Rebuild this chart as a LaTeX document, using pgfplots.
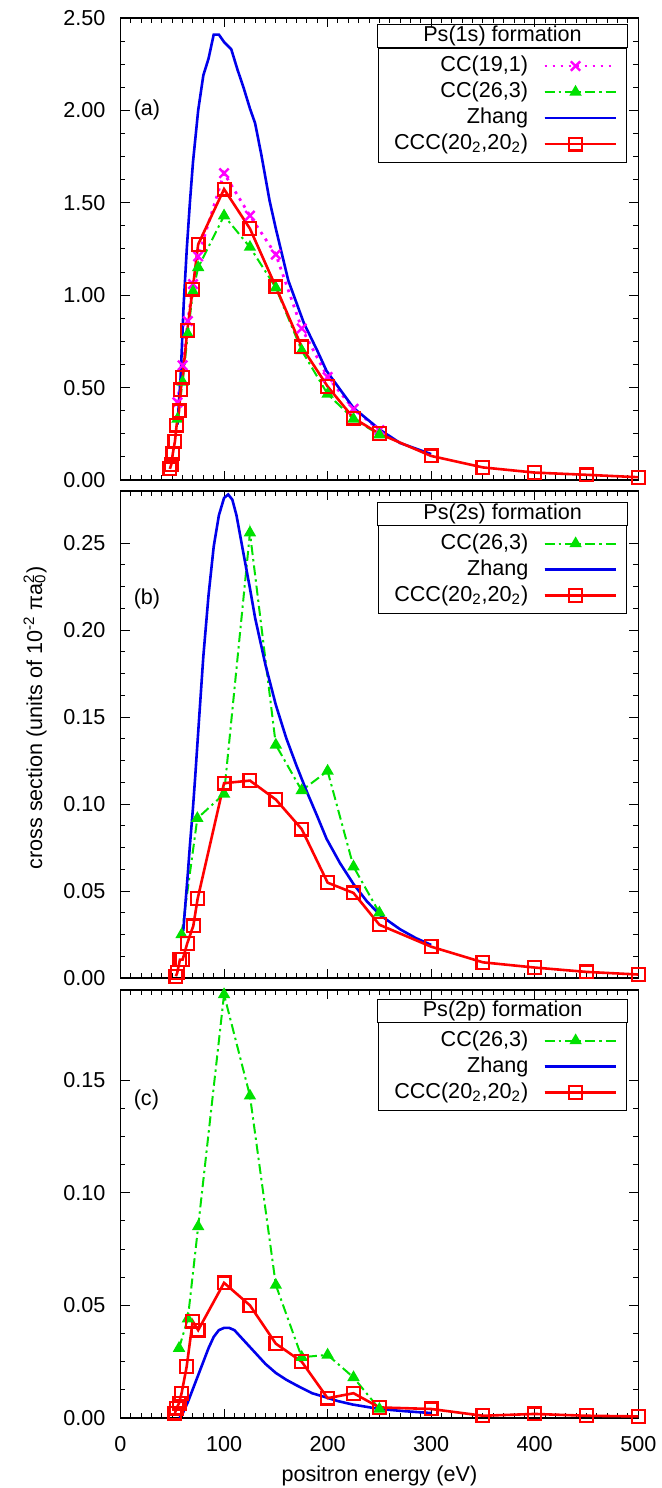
\documentclass[border=0pt]{standalone}
\usepackage{fontspec}
\setmainfont{Liberation Sans}
\usepackage{pgfplots}
\pgfplotsset{compat=1.18}
\usetikzlibrary{calc}
\definecolor{cgreen}{RGB}{0,225,0}
\definecolor{cblue}{RGB}{0,0,235}
\definecolor{cred}{RGB}{255,0,0}
\definecolor{cmag}{RGB}{255,0,255}
\pgfplotsset{
  panel/.style={
    scale only axis, width=258.9pt,
    xmin=0, xmax=500, xtick={0,100,...,500}, minor x tick num=9,
    minor y tick num=3, tick align=inside,
    major tick length=4.7pt, minor tick length=2.4pt,
    axis line style={line width=0.6pt},
    every tick/.style={black, line width=0.5pt},
    scaled y ticks=false,
    /pgf/number format/assume math mode=true,
    yticklabel style={/pgf/number format/fixed, /pgf/number format/fixed zerofill, /pgf/number format/precision=2, xshift=-4pt},
    xticklabel style={yshift=-5.5pt},
    legend plot pos=right, legend cell align=right,
    legend style={draw=black, line width=0.5pt, fill=white, inner xsep=5pt, inner ysep=2.5pt,
      row sep=0pt, nodes={inner sep=0pt, text height=9.3pt, text depth=3.7pt, text width=70pt, align=right},
      /tikz/column 1/.style={column sep=7.5pt}},
    legend image code/.code={
      \draw[mark repeat=2,mark phase=2] plot coordinates {(0pt,0pt) (15.5pt,0pt) (31pt,0pt)};
      \path (0pt,0pt) -- (35.5pt,0pt);
    },
  },
  ccc/.style={color=cred, line width=1.3pt, mark=square, mark size=3.2pt, mark options={solid, line width=1.1pt}},
  cctwo/.style={color=cgreen, line width=1pt, dash pattern=on 5pt off 2pt on 1.2pt off 2pt, mark=triangle*, mark size=2.6pt, mark options={solid}},
  ccone/.style={color=cmag, line width=1.4pt, dash pattern=on 1.4pt off 2.6pt, mark=x, mark size=3.3pt, mark options={solid, line width=1.2pt}},
  zhang/.style={color=cblue, line width=1.3pt, no marks},
}
\begin{document}
\begin{tikzpicture}[font=\fontsize{10.8pt}{13pt}\selectfont]
\useasboundingbox (-60.25pt,-35pt) rectangle (270.75pt,709pt);

% ---------------- panel (a)
\begin{axis}[panel, at={(0pt,469pt)}, anchor=south west, height=231pt,
  ymin=0, ymax=2.5, ytick={0,0.5,...,2.5}, xticklabels={},
  legend style={at={(rel axis cs:0.979,0.936)}, anchor=north east, name=legA}]
\addplot[ccone] coordinates {
 (55,0.42) (60,0.62) (65,0.86) (70,1.06) (75,1.21) (100,1.66) (125,1.43) (150,1.22)
 (175,0.82) (200,0.557) (225,0.385) (250,0.27)};
\addlegendentry{CC(19,1)}
\addplot[cctwo] coordinates {
 (55,0.33) (60,0.53) (65,0.79) (70,1.02) (75,1.15) (100,1.43) (125,1.26) (150,1.04)
 (175,0.70) (200,0.465) (225,0.33) (250,0.245)};
\addlegendentry{CC(26,3)}
\addplot[zhang] coordinates {
 (55,0.30) (58,0.55) (61,0.95) (64,1.25) (67,1.50) (70,1.72) (75,2.00) (80,2.19) (85,2.28)
 (90,2.41) (95,2.41) (100,2.37) (107,2.33) (113,2.22) (119,2.12) (125,2.01) (130,1.93)
 (136,1.76) (144,1.51) (150,1.36) (162,1.08) (177,0.85) (190,0.70) (199,0.59) (212,0.49)
 (225,0.39) (238,0.33) (251,0.27) (270,0.20) (285,0.17) (300,0.14)};
\addlegendentry{Zhang}
\addplot[ccc] coordinates {
 (47.7,0.060) (49.0,0.083) (50.6,0.146) (52.6,0.210) (54.2,0.297) (56.5,0.374) (58.1,0.488)
 (60.0,0.553) (64.5,0.810) (69.7,1.033) (75,1.275) (100,1.574) (125,1.360) (150,1.045)
 (175,0.720) (200,0.506) (225,0.335) (250,0.250) (300,0.130) (350,0.068) (400,0.040)
 (450,0.028) (500,0.015)};
\addlegendentry{CCC(20\textsubscript{2},20\textsubscript{2})}
\node[anchor=west] at (axis cs:6,2.0) {(a)};
\end{axis}
\draw[line width=0.5pt] (legA.north west) rectangle ($(legA.north east)+(0,11.5pt)$);
\node at ($(legA.north)+(0,5.75pt)$) {Ps(1s) formation};

% ---------------- panel (b)
\begin{axis}[panel, at={(0pt,220pt)}, anchor=south west, height=243.5pt,
  ymin=0, ymax=0.28, ytick={0,0.05,...,0.25}, xticklabels={},
  legend style={at={(rel axis cs:0.979,0.93)}, anchor=north east, name=legB}]
\addplot[cctwo] coordinates {
 (59,0.025) (74.2,0.0918) (100,0.1058) (125,0.256) (150,0.134) (175,0.1078) (200,0.119)
 (225,0.064) (250,0.0375)};
\addlegendentry{CC(26,3)}
\addplot[zhang] coordinates {
 (60.6,0.027) (63,0.045) (65,0.060) (67,0.076) (70,0.098) (72,0.1145) (76,0.150) (80,0.185)
 (85,0.220) (90,0.248) (95,0.266) (100,0.276) (104,0.278) (108,0.275) (112,0.266) (116,0.253)
 (120,0.240) (125,0.224) (130,0.207) (140,0.180) (150,0.157) (160,0.138) (170,0.122)
 (180,0.107) (190,0.093) (199,0.080) (212,0.066) (225,0.054) (238,0.044) (251,0.036)
 (270,0.028) (285,0.023) (300,0.019)};
\addlegendentry{Zhang}
\addplot[ccc] coordinates {
 (53.5,0.001) (54.8,0.003) (57.4,0.0106) (60,0.0106) (64.5,0.020) (70.3,0.030) (74.5,0.0456)
 (100,0.112) (125,0.1135) (150,0.1026) (175,0.0856) (200,0.0548) (225,0.0489) (250,0.0306)
 (300,0.018) (350,0.009) (400,0.006) (450,0.0035) (500,0.002)};
\addlegendentry{CCC(20\textsubscript{2},20\textsubscript{2})}
\node[anchor=west] at (axis cs:6,0.218) {(b)};
\end{axis}
\draw[line width=0.5pt] (legB.north west) rectangle ($(legB.north east)+(0,11.5pt)$);
\node at ($(legB.north)+(0,5.75pt)$) {Ps(2s) formation};

% ---------------- panel (c)
\begin{axis}[panel, at={(0pt,0pt)}, anchor=south west, height=214pt,
  ymin=0, ymax=0.19, ytick={0,0.05,...,0.15},
  xlabel={positron energy (eV)},
  xlabel style={at={(axis description cs:0.5,0)}, anchor=center, yshift=-29pt},
  legend style={at={(rel axis cs:0.979,0.925)}, anchor=north east, name=legC}]
\addplot[cctwo] coordinates {
 (56.5,0.031) (65,0.044) (75,0.085) (100,0.188) (125,0.143) (150,0.059) (175,0.027)
 (200,0.028) (225,0.018) (250,0.004)};
\addlegendentry{CC(26,3)}
\addplot[zhang] coordinates {
 (57,0) (60,0.002) (65,0.007) (70,0.013) (75,0.019) (80,0.025) (85,0.031) (90,0.036)
 (95,0.039) (100,0.040) (105,0.040) (110,0.039) (120,0.034) (130,0.029) (140,0.024)
 (150,0.020) (160,0.017) (170,0.0145) (185,0.011) (196,0.0095) (210,0.0075) (224,0.006)
 (250,0.004) (275,0.003) (300,0.0022)};
\addlegendentry{Zhang}
\addplot[ccc] coordinates {
 (52.6,0.0022) (54.2,0.0044) (56.5,0.0066) (59,0.011) (63.9,0.0228) (69.7,0.043) (75,0.039)
 (100,0.060) (125,0.050) (150,0.033) (175,0.025) (200,0.0088) (225,0.011) (250,0.0047)
 (300,0.004) (350,0.001) (400,0.0018) (450,0.001) (500,0.0007)};
\addlegendentry{CCC(20\textsubscript{2},20\textsubscript{2})}
\node[anchor=west] at (axis cs:6,0.141) {(c)};
\end{axis}
\draw[line width=0.5pt] (legC.north west) rectangle ($(legC.north east)+(0,11.5pt)$);
\node at ($(legC.north)+(0,5.75pt)$) {Ps(2p) formation};

\node[rotate=90] at (-42.75pt,350pt) {cross section (units of 10\textsuperscript{-2} πa\rlap{\textsubscript{0}}\textsuperscript{2})};
\end{tikzpicture}
\end{document}
